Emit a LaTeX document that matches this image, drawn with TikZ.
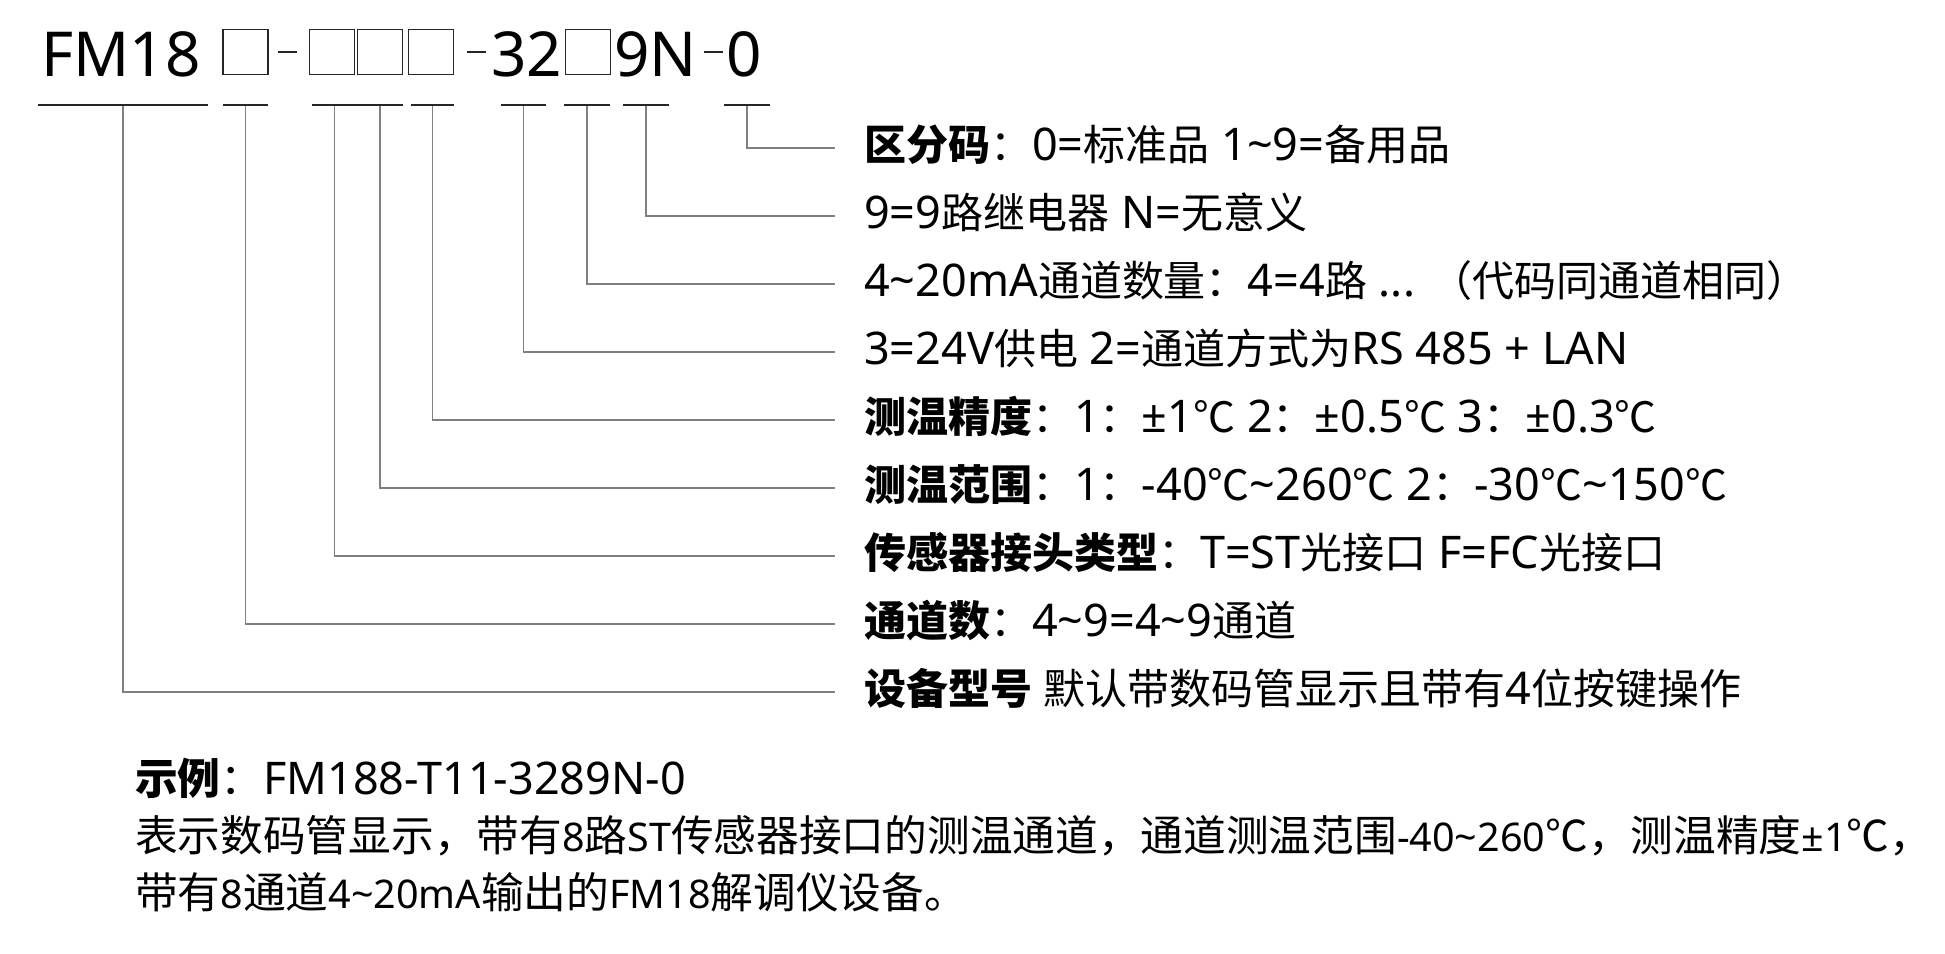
\documentclass[tikz,border=0pt]{standalone}
\usepackage{fontspec}
\setmainfont{Noto Sans}
\newfontfamily\cjkR[Scale=0.9333]{Noto Sans CJK SC}
\newfontfamily\cjkB[Scale=1.081]{Noto Sans CJK SC}
\let\curcjk\cjkR
% automatic switch to the CJK font for CJK characters
\XeTeXinterchartokenstate=1
\chardef\cjkcls=7
\newcount\cjkc
\cjkc="2E80 \loop \XeTeXcharclass\cjkc=\cjkcls \advance\cjkc 1 \ifnum\cjkc<"A000 \repeat
\cjkc="FF00 \loop \XeTeXcharclass\cjkc=\cjkcls \advance\cjkc 1 \ifnum\cjkc<"FFF0 \repeat
\XeTeXcharclass"2103=\cjkcls
\XeTeXinterchartoks 0 \cjkcls={\begingroup\curcjk}
\XeTeXinterchartoks 4095 \cjkcls={\begingroup\curcjk}
\XeTeXinterchartoks \cjkcls 0={\endgroup}
\XeTeXinterchartoks \cjkcls 4095={\endgroup}
\newcommand\tld{\char`\~}
\tikzset{
  codetxt/.style={font=\fontsize{62}{62}\selectfont, inner sep=0pt, anchor=base},
  blank/.style={draw=black!85, line width=1.3pt, minimum width=45pt, minimum height=45pt, inner sep=0pt},
  uline/.style={line width=1.3pt, draw=black!85},
  conn/.style={line width=1.3pt, draw=black!50},
  lbl/.style={font=\fontsize{45}{45}\selectfont\let\curcjk\cjkR, anchor=west, inner xsep=29pt, inner ysep=0pt, text height=36pt, text depth=12pt},
  para/.style={font=\fontsize{39.5}{39.5}\selectfont\let\curcjk\cjkB, anchor=base west, inner sep=0pt},
}
\begin{document}
\begin{tikzpicture}[x=1pt,y=-1pt]
\useasboundingbox[fill=white] (0,0) rectangle (1945,953);

% code line
\node[codetxt] (fm) at (121,76) {FM18};
\node[blank] (b1) at (245.5,52) {};
\node[blank] (b2) at (332,52) {};
\node[blank] (b3) at (380,52) {};
\node[blank] (b4) at (431,52) {};
\node[codetxt] (c32) at (526.5,76) {32};
\node[blank] (b5) at (588,52) {};
\node[codetxt] (c9n) at (655.5,76) {9N};
\node[codetxt] (c0) at (744.5,76) {0};
\coordinate (d1) at (287,52);
\coordinate (d2) at (476,52);
\coordinate (d3) at (713,52);
\foreach \d in {d1,d2,d3} \draw[uline] ([xshift=-9.5pt]\d) -- ([xshift=9.5pt]\d);

% labels
\node[lbl] (l1) at (835,148) {\textbf{区分码}：0=标准品 1\tld 9=备用品};
\node[lbl] (l2) at (835,216) {9=9路继电器 N=无意义};
\node[lbl] (l3) at (835,284) {4\tld 20mA通道数量：4=4路 ... （代码同通道相同）};
\node[lbl] (l4) at (835,352) {3=24V供电 2=通道方式为RS 485 + LAN};
\node[lbl] (l5) at (835,420) {\textbf{测温精度}：1：±1℃ 2：±0.5℃ 3：±0.3℃};
\node[lbl] (l6) at (835,488) {\textbf{测温范围}：1：-40℃\tld 260℃ 2：-30℃\tld 150℃};
\node[lbl] (l7) at (835,556) {\textbf{传感器接头类型}：T=ST光接口 F=FC光接口};
\node[lbl] (l8) at (835,624) {\textbf{通道数}：4\tld 9=4\tld 9通道};
\node[lbl] (l9) at (835,692) {\textbf{设备型号} 默认带数码管显示且带有4位按键操作};

% underline anchors and connectors
\foreach \c/\n in {123/9, 245.5/8, 334.5/7, 380/6, 432.5/5, 523.5/4, 587/3, 646/2, 747/1}
  \coordinate (u\n) at (\c,105);
\foreach \n in {1,...,9} \draw[conn] (u\n) |- (l\n.west);
\foreach \n/\h in {9/85, 8/22.5, 7/22.5, 6/23, 5/21.5, 4/22.5, 3/23, 2/23, 1/23}
  \draw[uline] ([xshift=-\h pt]u\n) -- ([xshift=\h pt]u\n);

% example
\node[para] (ex) at (135,794) {\textbf{示例}：{\fontsize{45}{45}\selectfont FM188-T11-3289N-0}};
\node[para] (ds1) at (135,851) {表示数码管显示，带有8路ST传感器接口的测温通道，通道测温范围-40\tld 260℃，测温精度±1℃，};
\node[para] (ds2) at (135,908) {带有8通道4\tld 20mA输出的FM18解调仪设备。};
\end{tikzpicture}
\end{document}
